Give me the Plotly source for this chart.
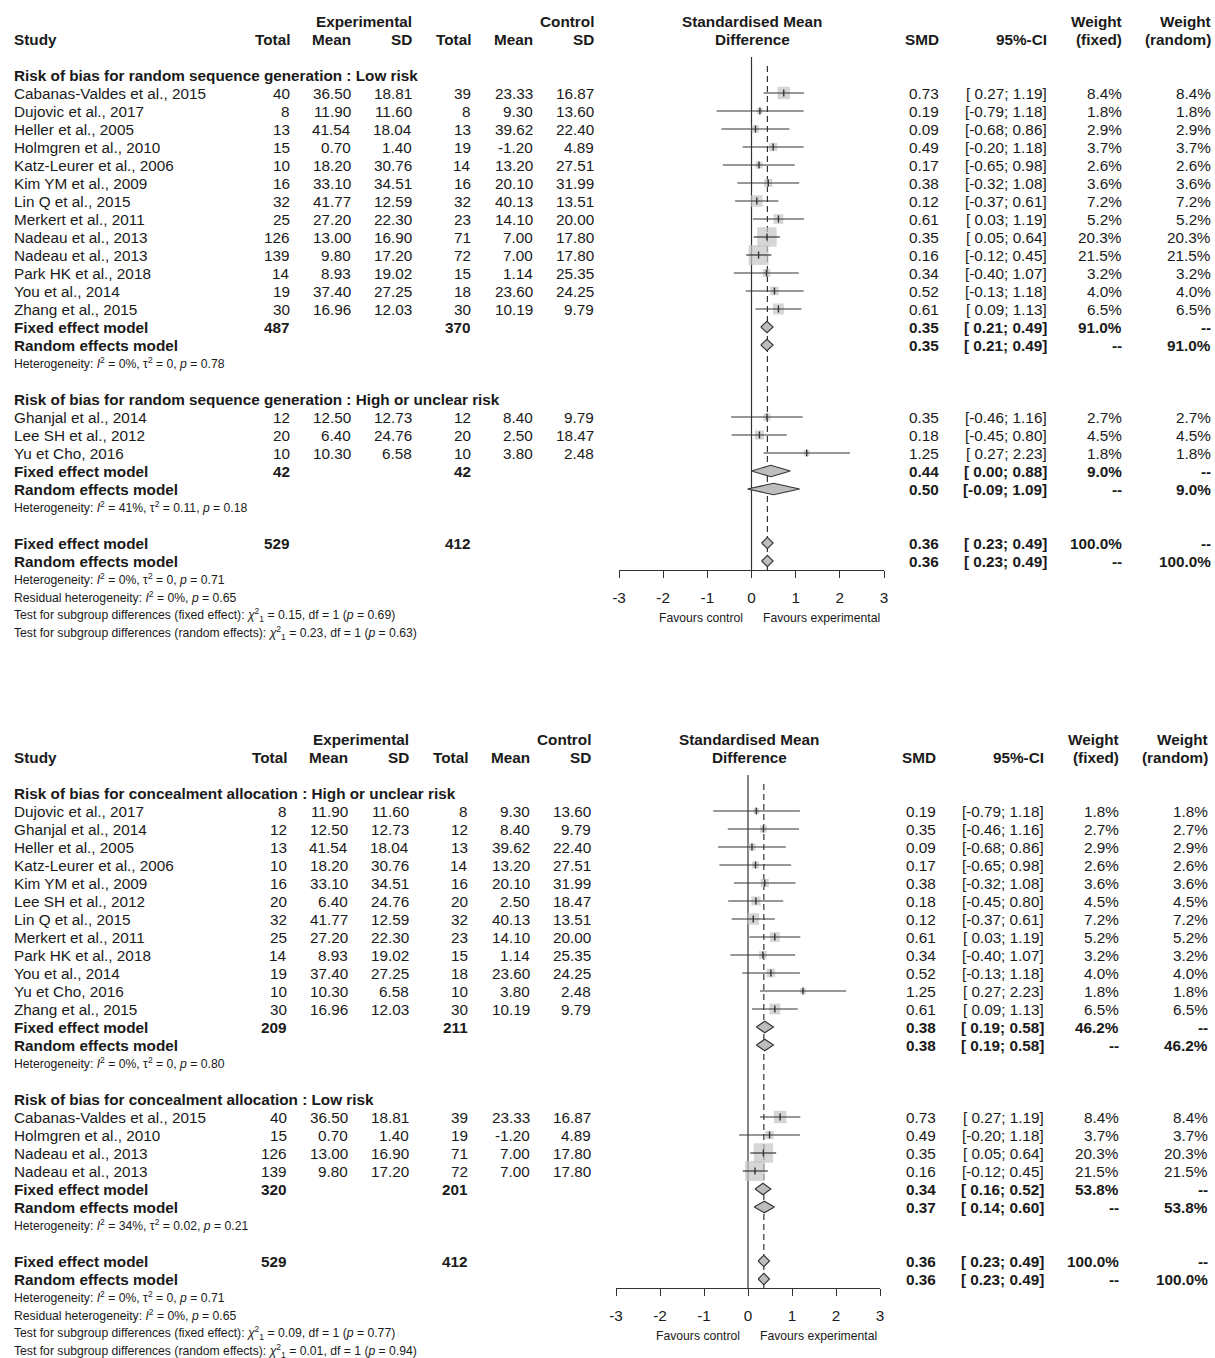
import math
import plotly.graph_objects as go

W, H = 1215, 1358
ROW = 18
FONT = "Liberation Sans, Arial, sans-serif"
FS = 15.3
FS_SMALL = 12.2
TXT = "#1a1a1a"
LINE = "#333333"
BOX = "#c4c4c4"

# ---- study level data (order of the first forest plot) ----
studies = ["Cabanas-Valdes et al., 2015", "Dujovic et al., 2017", "Heller et al., 2005",
           "Holmgren et al., 2010", "Katz-Leurer et al., 2006", "Kim YM et al., 2009",
           "Lin Q et al., 2015", "Merkert et al., 2011", "Nadeau et al., 2013",
           "Nadeau et al., 2013", "Park HK et al., 2018", "You et al., 2014",
           "Zhang et al., 2015", "Ghanjal et al., 2014", "Lee SH et al., 2012",
           "Yu et Cho, 2016"]
exp_n = [40, 8, 13, 15, 10, 16, 32, 25, 126, 139, 14, 19, 30, 12, 20, 10]
exp_mean = [36.50, 11.90, 41.54, 0.70, 18.20, 33.10, 41.77, 27.20, 13.00, 9.80, 8.93, 37.40, 16.96, 12.50, 6.40, 10.30]
exp_sd = [18.81, 11.60, 18.04, 1.40, 30.76, 34.51, 12.59, 22.30, 16.90, 17.20, 19.02, 27.25, 12.03, 12.73, 24.76, 6.58]
ctl_n = [39, 8, 13, 19, 14, 16, 32, 23, 71, 72, 15, 18, 30, 12, 20, 10]
ctl_mean = [23.33, 9.30, 39.62, -1.20, 13.20, 20.10, 40.13, 14.10, 7.00, 7.00, 1.14, 23.60, 10.19, 8.40, 2.50, 3.80]
ctl_sd = [16.87, 13.60, 22.40, 4.89, 27.51, 31.99, 13.51, 20.00, 17.80, 17.80, 25.35, 24.25, 9.79, 9.79, 18.47, 2.48]
smd = [0.73, 0.19, 0.09, 0.49, 0.17, 0.38, 0.12, 0.61, 0.35, 0.16, 0.34, 0.52, 0.61, 0.35, 0.18, 1.25]
ci_lo = [0.27, -0.79, -0.68, -0.20, -0.65, -0.32, -0.37, 0.03, 0.05, -0.12, -0.40, -0.13, 0.09, -0.46, -0.45, 0.27]
ci_hi = [1.19, 1.18, 0.86, 1.18, 0.98, 1.08, 0.61, 1.19, 0.64, 0.45, 1.07, 1.18, 1.13, 1.16, 0.80, 2.23]
weight = [8.4, 1.8, 2.9, 3.7, 2.6, 3.6, 7.2, 5.2, 20.3, 21.5, 3.2, 4.0, 6.5, 2.7, 4.5, 1.8]

# ---- plot 1: random sequence generation ----
seq_titles = ["Risk of bias for random sequence generation : Low risk",
              "Risk of bias for random sequence generation : High or unclear risk"]
seq_idx = [[0, 1, 2, 3, 4, 5, 6, 7, 8, 9, 10, 11, 12], [13, 14, 15]]
seq_n_exp = [487, 42]
seq_n_ctl = [370, 42]
seq_fixed = [(0.35, 0.21, 0.49, 91.0), (0.44, 0.00, 0.88, 9.0)]
seq_random = [(0.35, 0.21, 0.49, 91.0), (0.50, -0.09, 1.09, 9.0)]
seq_het = [(0, 0, 0.78), (41, 0.11, 0.18)]
seq_test = [(0.15, 0.69), (0.23, 0.63)]

# ---- plot 2: concealment allocation ----
conc_titles = ["Risk of bias for concealment allocation : High or unclear risk",
               "Risk of bias for concealment allocation : Low risk"]
conc_idx = [[1, 13, 2, 4, 5, 14, 6, 7, 10, 11, 15, 12], [0, 3, 8, 9]]
conc_n_exp = [209, 320]
conc_n_ctl = [211, 201]
conc_fixed = [(0.38, 0.19, 0.58, 46.2), (0.34, 0.16, 0.52, 53.8)]
conc_random = [(0.38, 0.19, 0.58, 46.2), (0.37, 0.14, 0.60, 53.8)]
conc_het = [(0, 0, 0.80), (34, 0.02, 0.21)]
conc_test = [(0.09, 0.77), (0.01, 0.94)]

# ---- overall ----
total_n = (529, 412)
overall_fixed = (0.36, 0.23, 0.49)
overall_random = (0.36, 0.23, 0.49)
overall_het = (0, 0, 0.71)
resid_het = (0, 0.65)

ticks = [-3, -2, -1, 0, 1, 2, 3]

# column anchors (pixels, right edge unless noted)
COL = dict(en=292, em=353, es=414, cn=473, cm=535, cs=596, mid=752,
           smd=941, ci=1049, wf=1124, wr=1213)

ann = []


def txt(x, y, s, anchor="right", size=FS, bold=False):
    if bold:
        s = "<b>" + s + "</b>"
    ann.append(dict(x=x / W, y=y, xref="paper", yref="y", text=s, xanchor=anchor,
                    yanchor="middle", showarrow=False,
                    font=dict(size=size, color=TXT, family=FONT)))


def ci_text(lo, hi):
    return "[" + (" " if lo >= 0 else "") + f"{lo:.2f}; {hi:.2f}]"


def tau_text(t):
    return "0" if t == 0 else f"{t:.2f}"


def het_text(h):
    return (f"Heterogeneity: <i>I</i><sup>2</sup> = {h[0]}%, τ<sup>2</sup> = {tau_text(h[1])}, "
            f"<i>p</i> = {h[2]:.2f}")


fig = go.Figure()


def panel(top, xa, dx, titles, idx, n_exp, n_ctl, fixed, random, het, test):
    r0 = top / ROW
    c = {k: v + dx for k, v in COL.items()}
    # headers
    txt(c["es"], r0, "Experimental", bold=True)
    txt(c["cs"], r0, "Control", bold=True)
    txt(c["mid"], r0, "Standardised Mean", "center", bold=True)
    txt(c["wf"], r0, "Weight", bold=True)
    txt(c["wr"], r0, "Weight", bold=True)
    y = r0 + 1
    txt(12, y, "Study", "left", bold=True)
    for k, s in [("en", "Total"), ("em", "Mean"), ("es", "SD"), ("cn", "Total"), ("cm", "Mean"),
                 ("cs", "SD"), ("smd", "SMD"), ("ci", "95%-CI"), ("wf", "(fixed)"), ("wr", "(random)")]:
        txt(c[k], y, s, bold=True)
    txt(c["mid"], y, "Difference", "center", bold=True)

    sx, sy, ss, lx, ly = [], [], [], [], []
    dxs, dys = [], []

    def diamond(est, lo, hi, yy, h=0.32):
        dxs.extend([lo, est, hi, est, lo, None])
        dys.extend([yy, yy - h, yy, yy + h, yy, None])

    def pooled(yy, res, n1, n2, which):
        txt(12, yy, which, "left", bold=True)
        if n1 is not None:
            txt(c["en"], yy, str(n1), bold=True)
            txt(c["cn"], yy, str(n2), bold=True)
        txt(c["smd"], yy, f"{res[0]:.2f}", bold=True)
        txt(c["ci"], yy, ci_text(res[1], res[2]), bold=True)
        diamond(res[0], res[1], res[2], yy)

    r = 3
    for g in range(2):
        txt(12, r0 + r, titles[g], "left", bold=True)
        r += 1
        for i in idx[g]:
            yy = r0 + r
            txt(12, yy, studies[i], "left")
            txt(c["en"], yy, str(exp_n[i]))
            txt(c["em"], yy, f"{exp_mean[i]:.2f}")
            txt(c["es"], yy, f"{exp_sd[i]:.2f}")
            txt(c["cn"], yy, str(ctl_n[i]))
            txt(c["cm"], yy, f"{ctl_mean[i]:.2f}")
            txt(c["cs"], yy, f"{ctl_sd[i]:.2f}")
            txt(c["smd"], yy, f"{smd[i]:.2f}")
            txt(c["ci"], yy, ci_text(ci_lo[i], ci_hi[i]))
            txt(c["wf"], yy, f"{weight[i]:.1f}%")
            txt(c["wr"], yy, f"{weight[i]:.1f}%")
            sx.append(smd[i])
            sy.append(yy)
            ss.append(4.3 * math.sqrt(weight[i]))
            lx.extend([ci_lo[i], ci_hi[i], None])
            ly.extend([yy, yy, None])
            r += 1
        yy = r0 + r
        pooled(yy, fixed[g], n_exp[g], n_ctl[g], "Fixed effect model")
        txt(c["wf"], yy, f"{fixed[g][3]:.1f}%", bold=True)
        txt(c["wr"], yy, "--", bold=True)
        r += 1
        yy = r0 + r
        pooled(yy, random[g], None, None, "Random effects model")
        txt(c["wf"], yy, "--", bold=True)
        txt(c["wr"], yy, f"{random[g][3]:.1f}%", bold=True)
        r += 1
        txt(12, r0 + r, het_text(het[g]), "left", size=FS_SMALL)
        r += 2

    yy = r0 + r
    pooled(yy, overall_fixed, total_n[0], total_n[1], "Fixed effect model")
    txt(c["wf"], yy, "100.0%", bold=True)
    txt(c["wr"], yy, "--", bold=True)
    yy = r0 + r + 1
    pooled(yy, overall_random, None, None, "Random effects model")
    txt(c["wf"], yy, "--", bold=True)
    txt(c["wr"], yy, "100.0%", bold=True)
    txt(12, r0 + r + 2, het_text(overall_het), "left", size=FS_SMALL)
    txt(12, r0 + r + 3, f"Residual heterogeneity: <i>I</i><sup>2</sup> = {resid_het[0]}%, "
        f"<i>p</i> = {resid_het[1]:.2f}", "left", size=FS_SMALL)
    for k, lab in enumerate(["fixed effect", "random effects"]):
        txt(12, r0 + r + 4 + k,
            f"Test for subgroup differences ({lab}): <i>χ</i><sup>2</sup><sub>1</sub> = "
            f"{test[k][0]:.2f}, df = 1 (<i>p</i> = {test[k][1]:.2f})", "left", size=FS_SMALL)

    axis_y = r0 + r + 1.5
    # reference lines
    fig.add_trace(go.Scatter(x=[0, 0], y=[r0 + 2, axis_y], mode="lines",
                             line=dict(color=LINE, width=1.2), xaxis=xa, yaxis="y", hoverinfo="skip"))
    fig.add_trace(go.Scatter(x=[overall_fixed[0]] * 2, y=[r0 + 2.5, axis_y], mode="lines",
                             line=dict(color=LINE, width=1.2, dash="6px,4px"),
                             xaxis=xa, yaxis="y", hoverinfo="skip"))
    fig.add_trace(go.Scatter(x=sx, y=sy, mode="markers",
                             marker=dict(symbol="square", size=ss, color=BOX, line=dict(width=0)),
                             xaxis=xa, yaxis="y"))
    fig.add_trace(go.Scatter(x=lx, y=ly, mode="lines", line=dict(color=LINE, width=1.2),
                             xaxis=xa, yaxis="y", hoverinfo="skip"))
    fig.add_trace(go.Scatter(x=sx, y=sy, mode="markers",
                             marker=dict(symbol="line-ns", size=5, line=dict(color=LINE, width=1.4)),
                             xaxis=xa, yaxis="y", hoverinfo="skip"))
    fig.add_trace(go.Scatter(x=dxs, y=dys, mode="lines", fill="toself", fillcolor="#bdbdbd",
                             line=dict(color=LINE, width=1.1), xaxis=xa, yaxis="y", hoverinfo="skip"))
    # axis captions
    fy = r0 + 33.17
    txt(701 + dx, fy, "Favours control", "center", size=FS_SMALL)
    txt(821 + dx, fy, "Favours experimental", "center", size=FS_SMALL)
    return axis_y * ROW


ax1 = panel(21, "x", 0, seq_titles, seq_idx, seq_n_exp, seq_n_ctl, seq_fixed, seq_random, seq_het, seq_test)
ax2 = panel(739, "x2", -3, conc_titles, conc_idx, conc_n_exp, conc_n_ctl, conc_fixed, conc_random, conc_het, conc_test)


def xaxis(lo, hi, ypx):
    return dict(domain=[lo / W, hi / W], range=[-3, 3], anchor="free", position=1 - ypx / H,
                showline=True, linecolor=LINE, linewidth=1.2, ticks="outside", ticklen=7,
                tickwidth=1.2, tickcolor=LINE, tickvals=ticks, ticktext=[str(t) for t in ticks],
                tickfont=dict(size=FS, color=TXT, family=FONT), ticklabelstandoff=7,
                showgrid=False, zeroline=False, automargin=False)


fig.update_layout(
    width=W, height=H, margin=dict(l=0, r=0, t=0, b=0), template="none",
    paper_bgcolor="white", plot_bgcolor="rgba(0,0,0,0)", showlegend=False,
    xaxis=xaxis(619, 884, ax1), xaxis2=xaxis(616, 880, ax2),
    yaxis=dict(domain=[0, 1], range=[H / ROW, 0], visible=False, anchor="x"),
    annotations=ann,
)

fig.write_html("out.html", config={"displayModeBar": False},
               post_script="document.body.style.margin = '0';")
